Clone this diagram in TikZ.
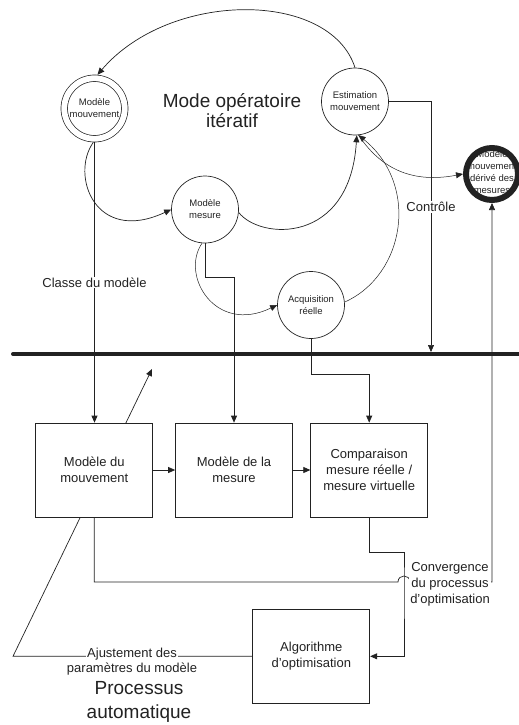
\documentclass[tikz,border=0pt]{standalone}
\usepackage{fontspec}
\setmainfont{Liberation Sans}
\usetikzlibrary{arrows.meta}
\definecolor{trait}{HTML}{222222}

\begin{document}
\begin{tikzpicture}[x=1pt, y=-1pt, line width=0.7pt, color=trait,
    fleche/.style={-{Triangle[length=7pt,width=6pt]}},
    fin/.style={line width=0.5pt},
    etat/.style={circle, draw, minimum size=67pt, inner sep=0pt, align=center,
      font=\fontsize{9.5}{12}\selectfont},
    bloc/.style={rectangle, draw, fill=white, minimum width=117pt,
      minimum height=94pt, align=center, font=\fontsize{13}{16}\selectfont},
    etiq/.style={font=\fontsize{13}{16}\selectfont, align=center},
    titre/.style={align=center}]
  \useasboundingbox (0,0) rectangle (519,725);

  % mode operatoire iteratif
  \node[etat, double, double distance=5.8pt, minimum size=60.5pt, outer sep=3.6pt]
    (mmv) at (94.5,108.5) {Modèle\\mouvement};
  \node[etat] (mms) at (205,209.5) {Modèle\\mesure};
  \node[etat] (est) at (355,101.5) {Estimation\\mouvement};
  \node[etat] (acq) at (311,305) {Acquisition\\réelle};
  \node[circle, draw, line width=6pt, minimum size=52pt, inner sep=0pt, outer sep=3pt]
    (mvd) at (492,174) {};
  \node[align=center, font=\fontsize{9.5}{12}\selectfont] (mvdt) at (492,172)
    {Modèle\\mouvement\\dérivé des\\mesures};
  \node[titre, font=\fontsize{19}{20}\selectfont] (mode) at (232,111)
    {Mode opératoire\\itératif};

  \draw[fleche] (est.north) .. controls (330,-10) and (170,-10) .. (mmv.85);
  \draw[fleche] (mmv.-92) .. controls (70,175) and (95,245) .. (mms.west);
  \draw[fleche] (mms.-5) .. controls (260,240) and (350,245) .. (est.-87);
  \draw[fleche, fin] (mms.-95) .. controls (180,275) and (215,335) .. (acq.west);
  \draw[fleche, fin] (acq.5) .. controls (405,275) and (420,185) .. (est.-84);
  \draw[fleche, fin] (est.-84) .. controls (385,175) and (420,182) .. (mvd.west);

  % barre de separation
  \coordinate (barG) at (13,354);
  \coordinate (barD) at (540,354);
  \coordinate (ctl) at (431,352);
  \draw[line width=4pt, line cap=round] (barG) -- (barD);

  % processus automatique
  \node[bloc] (alg) at (311.3,656.3) {Algorithme\\d'optimisation};
  \coordinate (coinG) at (13,656.3);
  \coordinate (flecheH) at (152,369);
  \draw[fleche] (alg.west) -- (coinG) -- (flecheH);

  \node[bloc] (bmv) at (94.3,470) {Modèle du\\mouvement};
  \node[bloc] (bms) at (234,470) {Modèle de la\\mesure};
  \node[bloc] (bcp) at (369.2,470) {Comparaison\\mesure réelle /\\mesure virtuelle};

  \draw[fleche] (mmv.south) -- node[etiq, fill=white, inner sep=1pt] (cls)
    {Classe du modèle} (mmv.south |- bmv.north);
  \draw[fleche] (mms.south) -- ++(0,34) -| (bms.north);
  \draw[fleche] (acq.south) -- ++(0,35) -| (bcp.north);
  \draw[fleche] (est.east) -| node[etiq, fill=white, inner sep=1pt, pos=0.71] (ctrl)
    {Contrôle} (ctl);
  \draw[fleche] (bmv.east) -- (bms.west);
  \draw[fleche] (bms.east) -- (bcp.west);

  \coordinate (saut) at (404,582);
  \draw[fleche] (bcp.south) -- ++(0,35) -| (saut) |- (alg.east);
  \draw[fleche] (bmv.south) -- (bmv.south |- saut) -- ([xshift=-6pt]saut)
    .. controls +(0,-8) and +(0,-8) .. ([xshift=6pt]saut) -| (mvd.south);

  \node[etiq, fill=white, inner sep=1pt] (conv) at (450,584)
    {Convergence\\du processus\\d'optimisation};
  \node[etiq, fill=white, inner sep=1pt, font=\fontsize{13}{15}\selectfont] (ajA)
    at (132,654) {Ajustement des};
  \node[etiq, font=\fontsize{13}{15}\selectfont] (ajB) at (132,669)
    {paramètres du modèle};
  \node[titre, font=\fontsize{19}{24}\selectfont] (proc) at (139,702)
    {Processus\\automatique};
\end{tikzpicture}
\end{document}
